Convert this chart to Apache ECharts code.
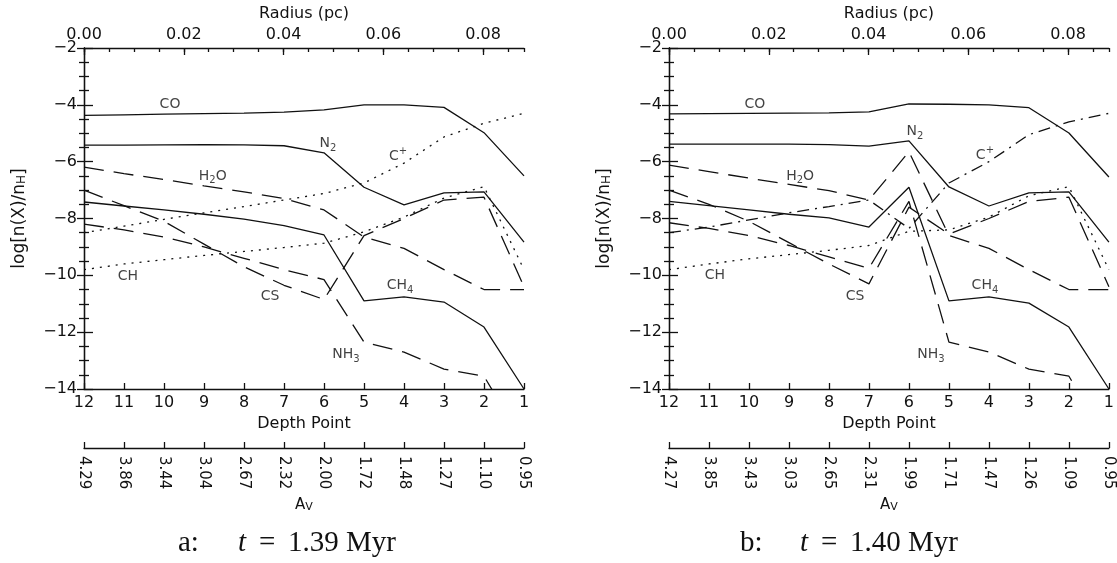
<!DOCTYPE html>
<html>
<head>
<meta charset="utf-8">
<script src="https://cdn.jsdelivr.net/npm/echarts@6/dist/echarts.min.js"></script>
<style>
  html, body { margin: 0; padding: 0; background: #fff; }
  #chart { width: 1117px; height: 563px; }
</style>
</head>
<body>
<div id="chart"></div>
<script>
// depth points, left to right
const depth = [12, 11, 10, 9, 8, 7, 6, 5, 4, 3, 2, 1];
const avA = ['4.29', '3.86', '3.44', '3.04', '2.67', '2.32', '2.00', '1.72', '1.48', '1.27', '1.10', '0.95'];
const avB = ['4.27', '3.85', '3.43', '3.03', '2.65', '2.31', '1.99', '1.71', '1.47', '1.26', '1.09', '0.95'];

// panel a : t = 1.39 Myr
const coA  = [-4.37, -4.35, -4.33, -4.31, -4.29, -4.26, -4.18, -4.0, -4.0, -4.09, -4.98, -6.5];
const n2A  = [-5.42, -5.42, -5.41, -5.4, -5.41, -5.44, -5.69, -6.9, -7.52, -7.1, -7.06, -8.83];
const cpA  = [-8.5, -8.27, -8.03, -7.8, -7.58, -7.35, -7.12, -6.75, -6.05, -5.13, -4.65, -4.3];
const h2oA = [-6.19, -6.42, -6.63, -6.85, -7.06, -7.3, -7.7, -8.65, -9.05, -9.8, -10.5, -10.5];
const chA  = [-9.8, -9.6, -9.45, -9.3, -9.16, -9.02, -8.87, -8.47, -7.95, -7.28, -6.88, -9.8];
const csA  = [-7.0, -7.55, -8.1, -8.9, -9.7, -10.35, -10.85, -8.6, -8.0, -7.35, -7.25, -10.4];
const ch4A = [-7.42, -7.56, -7.7, -7.85, -8.02, -8.25, -8.58, -10.9, -10.76, -10.94, -11.82, -14.0];
const nh3A = [-8.2, -8.4, -8.65, -9.0, -9.4, -9.8, -10.15, -12.35, -12.7, -13.3, -13.55, -15.9];

// panel b : t = 1.40 Myr
const coB  = [-4.32, -4.31, -4.3, -4.29, -4.28, -4.25, -3.97, -3.98, -4.0, -4.1, -4.99, -6.54];
const n2B  = [-5.38, -5.38, -5.38, -5.38, -5.4, -5.45, -5.27, -6.89, -7.56, -7.1, -7.06, -8.83];
const cpB  = [-8.5, -8.3, -8.05, -7.8, -7.58, -7.35, -8.35, -6.75, -6.0, -5.05, -4.6, -4.3];
const h2oB = [-6.12, -6.35, -6.58, -6.8, -7.02, -7.35, -5.65, -8.6, -9.05, -9.8, -10.5, -10.5];
const chB  = [-9.8, -9.6, -9.42, -9.27, -9.12, -8.95, -8.45, -8.4, -7.95, -7.2, -6.88, -9.8];
const csB  = [-7.0, -7.5, -8.1, -8.85, -9.6, -10.3, -7.6, -8.55, -8.0, -7.4, -7.25, -10.4];
const ch4B = [-7.4, -7.55, -7.7, -7.85, -7.98, -8.3, -6.9, -10.9, -10.76, -10.98, -11.82, -14.0];
const nh3B = [-8.15, -8.35, -8.6, -8.95, -9.35, -9.75, -7.4, -12.35, -12.7, -13.3, -13.55, -15.9];

// species labels [depth, value, text]
const labelsA = [
  [9.85, -3.97, 'CO'], [5.9, -5.34, 'N{s|2}'], [4.15, -5.8, 'C{p|+}'], [8.78, -6.5, 'H{s|2}O'],
  [10.9, -10.02, 'CH'], [7.35, -10.73, 'CS'], [4.1, -10.37, 'CH{s|4}'], [5.45, -12.77, 'NH{s|3}']
];
const labelsB = [
  [9.85, -3.97, 'CO'], [5.85, -4.92, 'N{s|2}'], [4.1, -5.77, 'C{p|+}'], [8.72, -6.5, 'H{s|2}O'],
  [10.85, -9.99, 'CH'], [7.35, -10.73, 'CS'], [4.1, -10.37, 'CH{s|4}'], [5.45, -12.77, 'NH{s|3}']
];

const FONT = 'DejaVu Sans';
const INK = '#111';
const DASH = [20, 10];
const DOT = [2, 6];
const DASHDOT = [12, 6, 2, 6];

let myChart = echarts.init(document.getElementById('chart'));

const subRich = {
  m: { fontFamily: FONT, fontSize: 14, color: INK, lineHeight: 20 },
  s: { fontFamily: FONT, fontSize: 10, color: INK, lineHeight: 10, verticalAlign: 'bottom' },
  p: { fontFamily: FONT, fontSize: 10, color: INK, lineHeight: 10, verticalAlign: 'top' }
};

function minus(v) {
  return String(v).replace('-', '\u2212');
}

function makeAxes(p, av) {
  const lineS = { color: INK, width: 1.3 };
  const xs = [
    { // depth point
      gridIndex: p, type: 'value', min: 1, max: 12, interval: 1, inverse: true, position: 'bottom',
      axisLine: { lineStyle: lineS }, axisTick: { inside: true, length: 6, lineStyle: lineS },
      axisLabel: { color: INK, fontFamily: FONT, fontSize: 16, margin: 6 },
      splitLine: { show: false },
      name: 'Depth Point', nameLocation: 'middle', nameGap: 26,
      nameTextStyle: { color: INK, fontFamily: FONT, fontSize: 16 }
    },
    { // A_V
      gridIndex: p, type: 'value', min: 1, max: 12, interval: 1, inverse: true, position: 'bottom', offset: 59,
      axisLine: { lineStyle: lineS }, axisTick: { inside: true, length: 6, lineStyle: lineS },
      axisLabel: { color: INK, fontFamily: FONT, fontSize: 15, margin: 8, rotate: -90,
        formatter: (v) => av[12 - v] },
      splitLine: { show: false },
      name: 'A{s|V}', nameLocation: 'middle', nameGap: 50,
      nameTextStyle: { color: INK, fontFamily: FONT, fontSize: 15,
        rich: { s: { fontFamily: FONT, fontSize: 11, color: INK, lineHeight: 10, verticalAlign: 'bottom' } } }
    },
    { // radius major
      gridIndex: p, type: 'value', min: 0, max: 0.0882, interval: 0.02, position: 'top',
      axisLine: { lineStyle: lineS }, axisTick: { inside: true, length: 7, lineStyle: lineS },
      axisLabel: { color: INK, fontFamily: FONT, fontSize: 16, margin: 5, showMaxLabel: false,
        formatter: (v) => v.toFixed(2) },
      splitLine: { show: false },
      name: 'Radius (pc)', nameLocation: 'middle', nameGap: 24,
      nameTextStyle: { color: INK, fontFamily: FONT, fontSize: 16 }
    },
    { // radius minor ticks
      gridIndex: p, type: 'value', min: 0, max: 0.0882, interval: 0.005, position: 'top',
      axisLine: { show: false }, axisTick: { inside: true, length: 4, lineStyle: lineS },
      axisLabel: { show: false }, splitLine: { show: false }
    }
  ];
  const ys = [
    {
      gridIndex: p, type: 'value', min: -14, max: -2, interval: 2, position: 'left',
      axisLine: { lineStyle: lineS }, axisTick: { inside: true, length: 9, lineStyle: lineS },
      minorTick: { show: true, splitNumber: 4, length: 5, lineStyle: lineS },
      axisLabel: { color: INK, fontFamily: FONT, fontSize: 16, margin: 7, formatter: minus },
      splitLine: { show: false },
      name: 'log[n(X)/n{s|H}]', nameLocation: 'middle', nameGap: 56,
      nameTextStyle: { color: INK, fontFamily: FONT, fontSize: 17,
        rich: { s: { fontFamily: FONT, fontSize: 12, color: INK, lineHeight: 10, verticalAlign: 'bottom' } } }
    },
    {
      gridIndex: p, type: 'value', min: -14, max: -2, interval: 2, position: 'right',
      axisLine: { lineStyle: lineS }, axisTick: { inside: true, length: 7, lineStyle: lineS },
      minorTick: { show: true, splitNumber: 4, length: 5, lineStyle: lineS },
      axisLabel: { show: false }, splitLine: { show: false }
    }
  ];
  return { xs, ys };
}

function lineSeries(p, vals, type) {
  return {
    type: 'line', xAxisIndex: 4 * p, yAxisIndex: 2 * p,
    data: depth.map((d, i) => [d, vals[i]]),
    symbol: 'none', silent: true, clip: true,
    lineStyle: { color: INK, width: 1.3, type: type }
  };
}

function labelSeries(p, labels) {
  return {
    type: 'scatter', xAxisIndex: 4 * p, yAxisIndex: 2 * p, silent: true,
    symbolSize: 1, itemStyle: { color: 'rgba(0,0,0,0)' },
    data: labels,
    label: {
      show: true, position: 'inside',
      formatter: (prm) => prm.data[2].replace(/^([^{]*)/, '{m|$1}').replace(/\}([^{]+)$/, '}{m|$1}'),
      rich: subRich
    }
  };
}

const axA = makeAxes(0, avA);
const axB = makeAxes(1, avB);

const SERIF = 'Liberation Serif';
const capRich = {
  a: { fontFamily: SERIF, fontSize: 29, fontWeight: 'normal', color: INK, width: 60 },
  t: { fontFamily: SERIF, fontSize: 29, fontWeight: 'normal', color: INK, fontStyle: 'italic' },
  e: { fontFamily: SERIF, fontSize: 29, fontWeight: 'normal', color: INK, width: 42, align: 'center' },
  v: { fontFamily: SERIF, fontSize: 29, fontWeight: 'normal', color: INK }
};

myChart.setOption({
  backgroundColor: '#fff',
  animation: false,
  title: [
    { left: 173, top: 524, text: '{a|a:}{t|t}{e|=}{v|1.39 Myr}',
      textStyle: { fontWeight: 'normal', rich: capRich } },
    { left: 735, top: 524, text: '{a|b:}{t|t}{e|=}{v|1.40 Myr}',
      textStyle: { fontWeight: 'normal', rich: capRich } }
  ],
  grid: [
    { left: 84, top: 48, width: 440, height: 341 },
    { left: 669, top: 48, width: 440, height: 341 }
  ],
  xAxis: axA.xs.concat(axB.xs),
  yAxis: axA.ys.concat(axB.ys),
  series: [
    lineSeries(0, coA, 'solid'), lineSeries(0, n2A, 'solid'), lineSeries(0, ch4A, 'solid'),
    lineSeries(0, cpA, DOT), lineSeries(0, chA, DOT),
    lineSeries(0, h2oA, DASH), lineSeries(0, csA, DASH), lineSeries(0, nh3A, DASH),
    labelSeries(0, labelsA),
    lineSeries(1, coB, 'solid'), lineSeries(1, n2B, 'solid'), lineSeries(1, ch4B, 'solid'),
    lineSeries(1, cpB, DASHDOT), lineSeries(1, chB, DOT),
    lineSeries(1, h2oB, DASH), lineSeries(1, csB, DASH), lineSeries(1, nh3B, DASH),
    labelSeries(1, labelsB)
  ]
});

window.addEventListener('resize', () => {
  myChart.resize();
});
</script>
</body>
</html>
